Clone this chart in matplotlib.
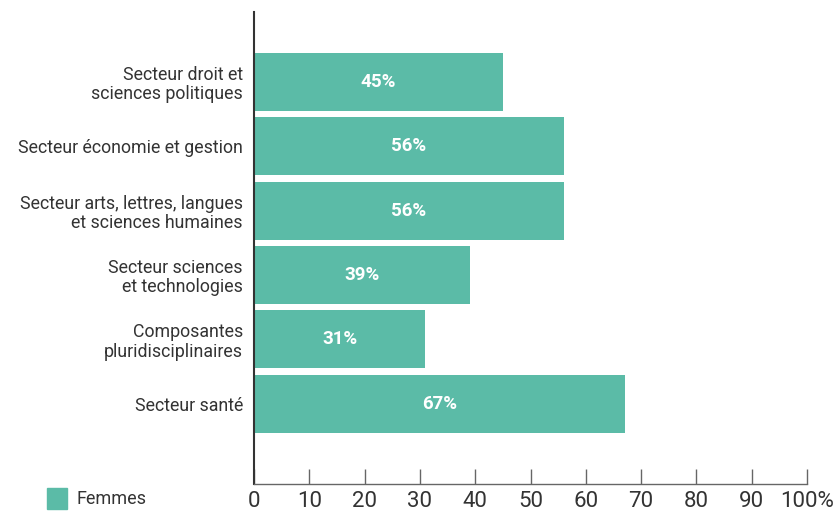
import matplotlib.pyplot as plt
from matplotlib.patches import Rectangle

categories = [
    "Secteur droit et\nsciences politiques",
    "Secteur économie et gestion",
    "Secteur arts, lettres, langues\net sciences humaines",
    "Secteur sciences\net technologies",
    "Composantes\npluridisciplinaires",
    "Secteur santé",
]
femmes = [45, 56, 56, 39, 31, 67]
x_ticks = [0, 10, 20, 30, 40, 50, 60, 70, 80, 90, 100]
x_tick_labels = ["0", "10", "20", "30", "40", "50", "60", "70", "80", "90", "100%"]

bar_color = "#5bbba7"
text_color = "#333333"

plt.rcParams['font.family'] = ['Roboto', 'DejaVu Sans']

fig = plt.figure(figsize=(8.39, 5.11), dpi=100)
ax = fig.add_axes([254 / 839, 1 - 484 / 511, 553 / 839, 472 / 511])

y = list(range(len(categories)))
ax.barh(y, femmes, height=0.9, color=bar_color)
for yi, v in zip(y, femmes):
    ax.text(v / 2, yi, f"{v}%", ha='center', va='center', color='white',
            fontsize=13.5, fontweight='bold')

ax.set_xlim(0, 100)
ax.set_ylim(6.25, -1.09)
ax.set_yticks(y)
ax.set_yticklabels(categories, fontsize=12.8, color=text_color, linespacing=1.1)
ax.tick_params(axis='y', length=0, pad=8)

ax.set_xticks(x_ticks)
ax.set_xticklabels(x_tick_labels, fontsize=16, color=text_color)
ax.tick_params(axis='x', direction='in', length=11, width=1, color='#666666', pad=5)

for side in ['top', 'right']:
    ax.spines[side].set_visible(False)
ax.spines['left'].set_color(text_color)
ax.spines['left'].set_linewidth(1.5)
ax.spines['bottom'].set_color('#666666')
ax.spines['bottom'].set_linewidth(1)

# legend
fig.patches.append(Rectangle((47 / 839, 1 - 509 / 511), 20 / 839, 21 / 511,
                             transform=fig.transFigure, color=bar_color))
fig.text(76 / 839, 1 - 499 / 511, "Femmes", fontsize=13, color=text_color, va='center')

fig.savefig("out.png", dpi=100)
